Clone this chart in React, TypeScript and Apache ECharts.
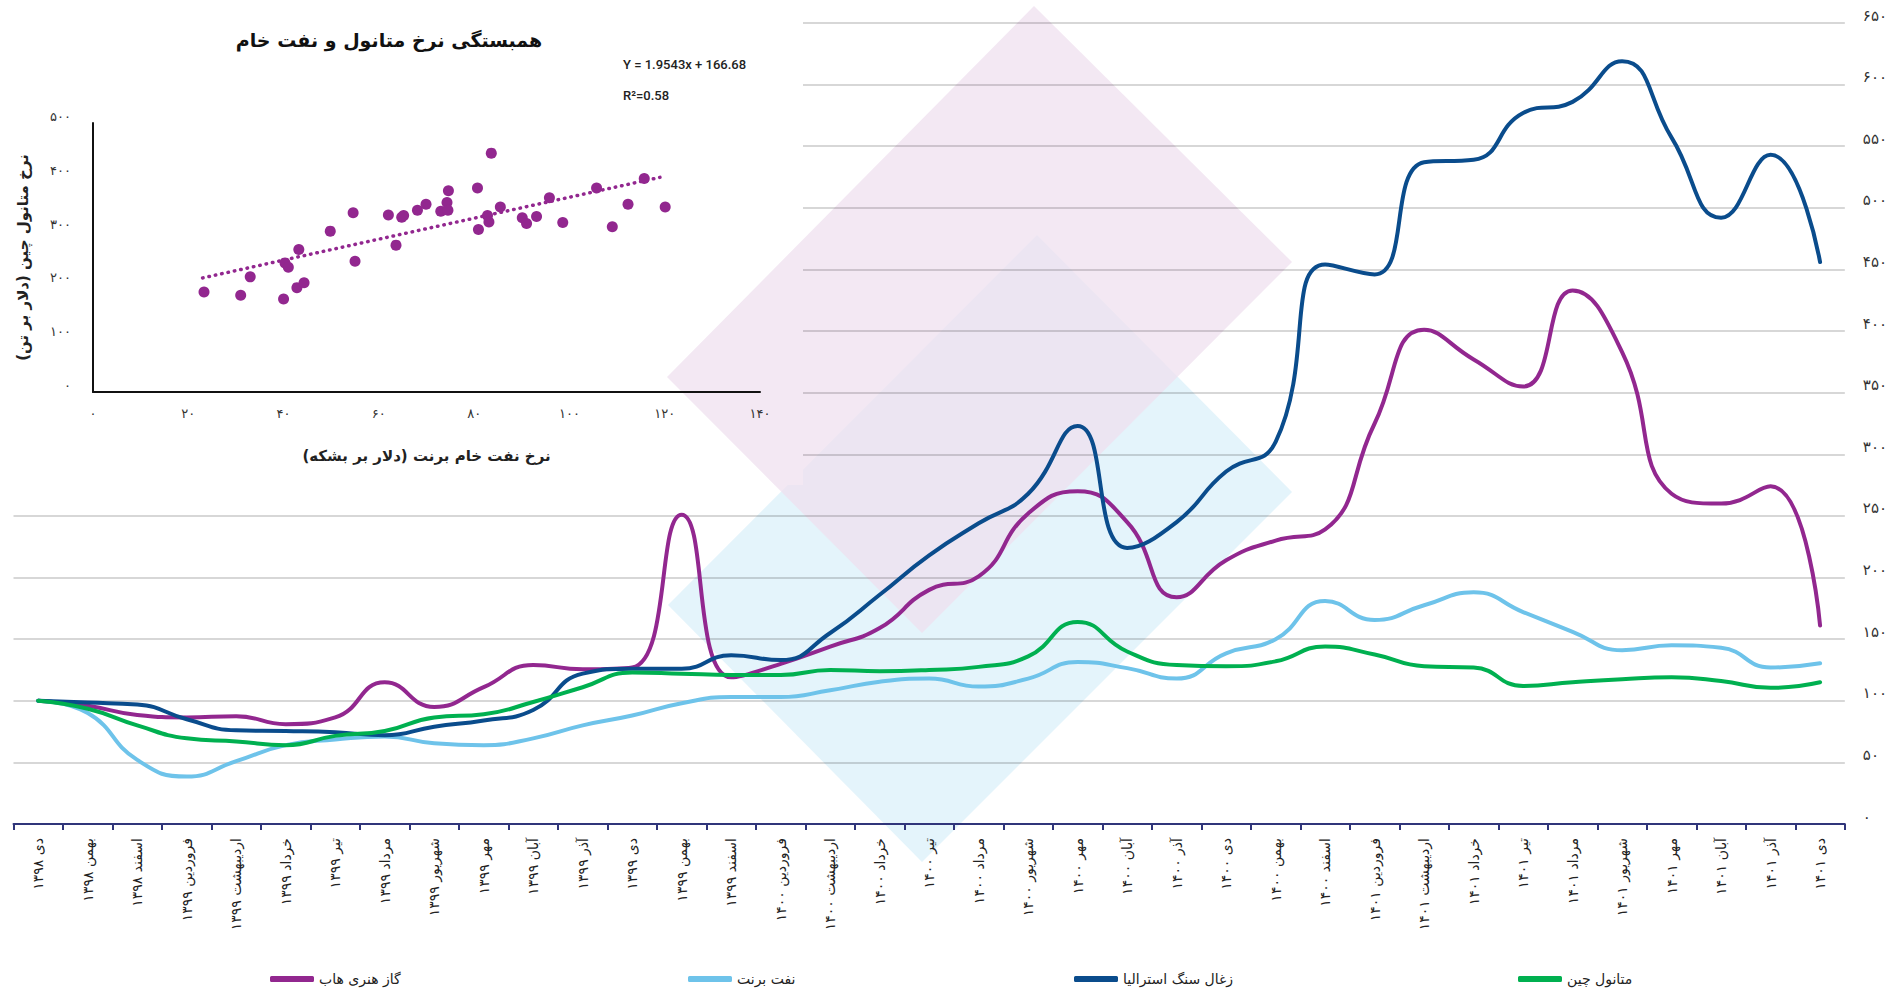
import React, { useEffect, useRef } from 'react';
import * as echarts from 'echarts';

const categories = [
  'دی ۱۳۹۸', 'بهمن ۱۳۹۸', 'اسفند ۱۳۹۸',
  'فروردین ۱۳۹۹', 'اردیبهشت ۱۳۹۹', 'خرداد ۱۳۹۹', 'تیر ۱۳۹۹', 'مرداد ۱۳۹۹', 'شهریور ۱۳۹۹',
  'مهر ۱۳۹۹', 'آبان ۱۳۹۹', 'آذر ۱۳۹۹', 'دی ۱۳۹۹', 'بهمن ۱۳۹۹', 'اسفند ۱۳۹۹',
  'فروردین ۱۴۰۰', 'اردیبهشت ۱۴۰۰', 'خرداد ۱۴۰۰', 'تیر ۱۴۰۰', 'مرداد ۱۴۰۰', 'شهریور ۱۴۰۰',
  'مهر ۱۴۰۰', 'آبان ۱۴۰۰', 'آذر ۱۴۰۰', 'دی ۱۴۰۰', 'بهمن ۱۴۰۰', 'اسفند ۱۴۰۰',
  'فروردین ۱۴۰۱', 'اردیبهشت ۱۴۰۱', 'خرداد ۱۴۰۱', 'تیر ۱۴۰۱', 'مرداد ۱۴۰۱', 'شهریور ۱۴۰۱',
  'مهر ۱۴۰۱', 'آبان ۱۴۰۱', 'آذر ۱۴۰۱', 'دی ۱۴۰۱',
];

const seriesNames = ['گاز هنری هاب', 'نفت برنت', 'زغال سنگ استرالیا', 'متانول چین'];
const seriesColors = ['#92278F', '#6EC3EA', '#0A4C8C', '#00B050'];

const henryHub = [100, 96, 88.5, 86.5, 87.5, 81, 86.5, 115, 95, 111, 129, 125.5, 127, 251, 119, 130, 144, 159, 190, 201, 252, 270, 245, 184, 214, 230, 239, 325, 401, 377, 355, 433, 383, 268, 260, 274, 161];
const brent = [100, 90, 52, 38.5, 51, 64, 68.5, 71, 65.5, 64, 69.5, 80, 88, 98, 103, 103, 108.5, 115.5, 118, 111.5, 118, 131.5, 126.5, 118, 138.5, 150, 181, 165.5, 177.5, 188, 172, 156, 141, 145, 143, 127, 130.5];
const coal = [100, 98.5, 97, 85, 76, 75.5, 74.5, 72, 79, 84, 92.5, 122, 126, 126, 137, 133, 155, 186, 218, 244, 268, 323, 224, 245, 286, 310, 454, 446, 537, 539, 577, 586, 619, 557, 492, 543, 456];
const methanol = [100, 93.5, 80, 69.5, 67, 64, 71.5, 75.5, 86.5, 89, 99, 111, 123, 122, 121, 121, 125, 124, 125, 127.5, 136, 164, 140, 129, 128, 132, 144, 137.5, 128, 127, 112, 115, 117.5, 119, 116, 110.5, 115];

// inset scatter: Brent price ($/bbl) vs China methanol price ($/t)
const scatterBrent = [23.3, 31, 33, 40, 40.3, 41, 42.8, 43.2, 44.3, 49.8, 54.6, 55, 62, 63.6, 64.8, 65.2, 68.1, 69.9, 73, 74.3, 74.5, 74.6, 80.7, 80.9, 82.8, 83.1, 83.6, 85.5, 90.1, 91, 93.1, 95.8, 98.6, 105.7, 109, 112.3, 115.7, 120.1];
const scatterMethanol = [186, 180, 214, 173, 240, 232, 194, 265, 203, 299, 333, 243, 329, 273, 325, 328, 338, 349, 336, 352, 338, 374, 379, 302, 328, 316, 444, 344, 324, 313, 326, 361, 315, 379, 307, 349, 397, 344];
const trendX = [23, 119];
const trendY = [212, 399];

const chartTitle = 'همبستگی نرخ متانول و نفت خام';
const equationText = 'Y = 1.9543x + 166.68';
const r2Text = 'R²=0.58';
const insetXName = 'نرخ نفت خام برنت (دلار بر بشکه)';
const insetYName = 'نرخ متانول چین (دلار بر تن)';

const FA = '۰۱۲۳۴۵۶۷۸۹';
const toFa = (v: number | string) => String(v).replace(/\d/g, (d) => FA[Number(d)]);

const FONT = 'DejaVu Sans';

export default function App() {
  const ref = useRef<HTMLDivElement>(null);

  useEffect(() => {
    document.body.style.margin = '0';
    const chart = echarts.init(ref.current!, null, { renderer: 'svg' });

    const lineSeries = [henryHub, brent, coal, methanol].map((d, i) => ({
      name: seriesNames[i],
      type: 'line',
      xAxisIndex: 0,
      yAxisIndex: 0,
      data: d,
      smooth: true,
      symbol: 'none',
      z: 6,
      color: seriesColors[i],
      lineStyle: { width: 4, color: seriesColors[i], cap: 'round', join: 'round' },
    }));

    const legendLefts = [265, 683, 1069, 1513];

    const option: any = {
      animation: false,
      backgroundColor: '#ffffff',
      grid: [
        { left: 13.5, right: 44, top: 23, bottom: 164, containLabel: false },
        { left: 93, top: 123, width: 667, height: 269, containLabel: false },
      ],
      legend: seriesNames.map((n, i) => ({
        data: [n],
        left: legendLefts[i],
        top: 967,
        icon: 'roundRect',
        itemWidth: 44,
        itemHeight: 6,
        selectedMode: false,
        textStyle: { fontFamily: FONT, fontSize: 14, color: '#222' },
      })),
      xAxis: [
        {
          type: 'category',
          gridIndex: 0,
          data: categories,
          boundaryGap: true,
          z: 6,
          axisLine: { show: true, lineStyle: { color: '#30357A', width: 2 } },
          axisTick: { show: true, length: 6, lineStyle: { color: '#30357A', width: 2 } },
          axisLabel: { rotate: 90, interval: 0, margin: 14, fontSize: 14, color: '#222', fontFamily: FONT },
          splitLine: { show: false },
        },
        {
          type: 'value',
          gridIndex: 1,
          min: 0,
          max: 140,
          interval: 20,
          z: 5,
          axisLine: { show: true, onZero: false, lineStyle: { color: '#111', width: 2 } },
          axisTick: { show: false },
          splitLine: { show: false },
          axisLabel: { margin: 15, fontSize: 13, color: '#333', fontFamily: FONT, formatter: (v: number) => toFa(v) },
          name: insetXName,
          nameLocation: 'middle',
          nameGap: 56,
          nameTextStyle: { fontFamily: FONT, fontSize: 15, fontWeight: 'bold', color: '#222' },
        },
      ],
      yAxis: [
        {
          type: 'value',
          gridIndex: 0,
          position: 'right',
          min: 0,
          max: 650,
          interval: 50,
          z: 2,
          axisLine: { show: false },
          axisTick: { show: false },
          axisLabel: {
            margin: 18, fontSize: 15, color: '#333', fontFamily: FONT, verticalAlign: 'bottom',
            formatter: (v: number) => toFa(v),
          },
          splitLine: { show: true, lineStyle: { color: 'rgba(0,0,0,0.21)', width: 1.5 } },
        },
        {
          type: 'value',
          gridIndex: 1,
          min: 0,
          max: 500,
          interval: 100,
          z: 5,
          axisLine: { show: true, onZero: false, lineStyle: { color: '#111', width: 2 } },
          axisTick: { show: false },
          splitLine: { show: false },
          axisLabel: {
            margin: 22, fontSize: 13, color: '#333', fontFamily: FONT, verticalAlign: 'bottom',
            formatter: (v: number) => toFa(v),
          },
          name: insetYName,
          nameLocation: 'middle',
          nameGap: 63,
          nameTextStyle: { fontFamily: FONT, fontSize: 15, fontWeight: 'bold', color: '#222' },
        },
      ],
      graphic: [
        // decorative diamonds (behind grid lines)
        {
          type: 'polygon', z: 1, silent: true,
          shape: { points: [[668, 605], [1037, 235], [1292, 492], [922, 862]] },
          style: { fill: 'rgba(110,195,234,0.19)' },
        },
        {
          type: 'polygon', z: 1, silent: true,
          shape: { points: [[667, 377], [1034, 6], [1292, 262], [922, 633]] },
          style: { fill: 'rgba(239,224,239,0.75)' },
        },
        // inset panel background (hides grid lines)
        { type: 'rect', z: 3, silent: true, shape: { x: 0, y: 0, width: 803, height: 485 }, style: { fill: '#ffffff' } },
        // part of the pink diamond lying over the inset panel
        {
          type: 'polygon', z: 3, silent: true,
          shape: { points: [[803, 239.5], [667, 377], [774.6, 485], [803, 485]] },
          style: { fill: '#F3E8F3' },
        },
        {
          type: 'text', z: 5, x: 389, y: 40, silent: true,
          style: {
            text: chartTitle, fontFamily: FONT, fontSize: 19, fontWeight: 'bold', fill: '#111',
            align: 'center', verticalAlign: 'middle', textAlign: 'center', textVerticalAlign: 'middle',
          },
        },
        {
          type: 'text', z: 5, x: 623, y: 64, silent: true,
          style: {
            text: equationText, fontFamily: 'Roboto', fontSize: 13, fontWeight: 500, fill: '#222',
            align: 'left', verticalAlign: 'middle', textAlign: 'left', textVerticalAlign: 'middle',
          },
        },
        {
          type: 'text', z: 5, x: 623, y: 95, silent: true,
          style: {
            text: r2Text, fontFamily: 'Roboto', fontSize: 13, fontWeight: 500, fill: '#222',
            align: 'left', verticalAlign: 'middle', textAlign: 'left', textVerticalAlign: 'middle',
          },
        },
      ],
      series: [
        ...lineSeries,
        {
          name: 'trend',
          type: 'line',
          xAxisIndex: 1,
          yAxisIndex: 1,
          data: trendX.map((x, i) => [x, trendY[i]]),
          symbol: 'none',
          z: 5,
          lineStyle: { type: [0.5, 6], width: 3.5, color: '#92278F', cap: 'round' },
        },
        {
          name: 'scatter',
          type: 'scatter',
          xAxisIndex: 1,
          yAxisIndex: 1,
          data: scatterBrent.map((x, i) => [x, scatterMethanol[i]]),
          symbolSize: 11,
          z: 5,
          itemStyle: { color: '#92278F', opacity: 1 },
        },
      ],
    };

    chart.setOption(option);
    return () => chart.dispose();
  }, []);

  return (
    <div
      ref={ref}
      style={{ position: 'absolute', left: 0, top: 0, width: 1890, height: 988 }}
    />
  );
}
